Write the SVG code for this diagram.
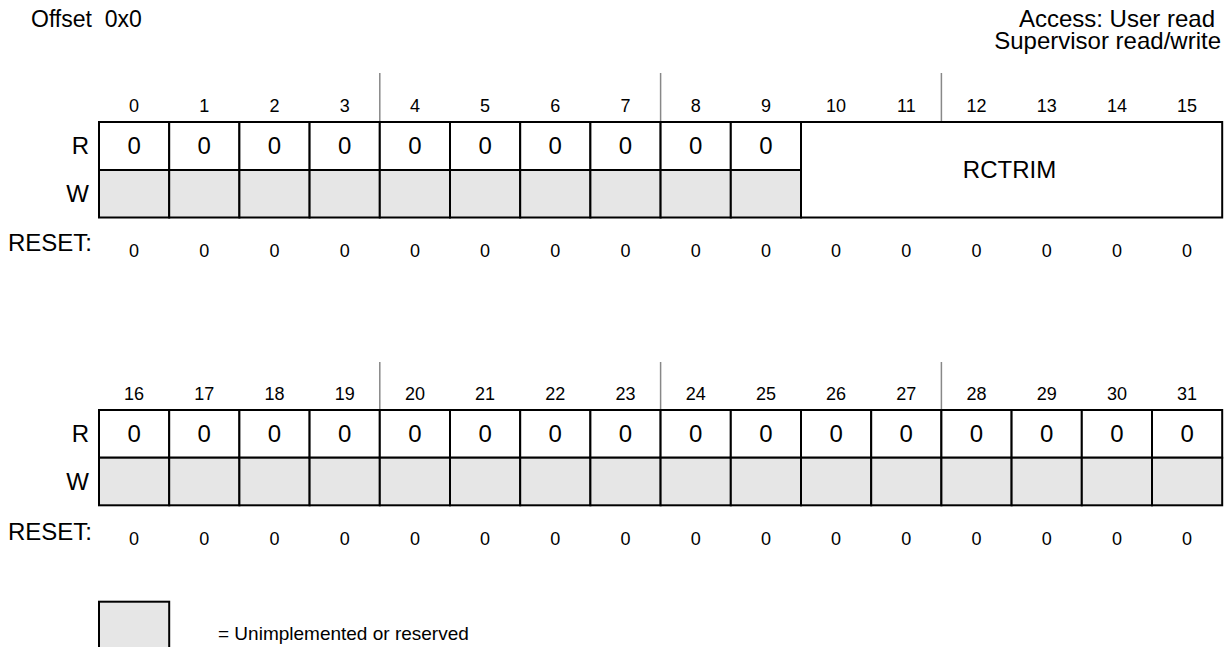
<svg xmlns="http://www.w3.org/2000/svg" width="1227" height="647" viewBox="0 0 1227 647">
<style>
text{font-family:"Liberation Sans",Arial,Helvetica,sans-serif;fill:#000}
.big{font-size:24px}
.num{font-size:18px;text-anchor:middle}
.val{font-size:24px;text-anchor:middle}
.lbl{font-size:24px;text-anchor:end}
.r{fill:#fff;stroke:#000;stroke-width:2}
.w{fill:#e6e6e6;stroke:#000;stroke-width:2}
.tick{stroke:#888;stroke-width:1.5}
</style>
<rect width="1227" height="647" fill="#fff"/>
<g id="header">
<text x="31" y="27" style="font-size:23px" xml:space="preserve">Offset  0x0</text>
<text class="big" x="1215" y="26.5" text-anchor="end">Access: User read</text>
<text class="big" x="1221" y="49" text-anchor="end">Supervisor read/write</text>
</g>
<g id="connectors">
<line class="tick" x1="379.8" y1="73" x2="379.8" y2="122"/>
<line class="tick" x1="660.6" y1="73" x2="660.6" y2="122"/>
<line class="tick" x1="941.4" y1="73" x2="941.4" y2="122"/>
<line class="tick" x1="379.8" y1="362" x2="379.8" y2="410"/>
<line class="tick" x1="660.6" y1="362" x2="660.6" y2="410"/>
<line class="tick" x1="941.4" y1="362" x2="941.4" y2="410"/>
</g>
<g id="row-labels">
<text class="lbl" x="89" y="153.5">R</text>
<text class="lbl" x="89" y="201.5">W</text>
<text class="big" x="8" y="251">RESET:</text>
<text class="lbl" x="89" y="442">R</text>
<text class="lbl" x="89" y="490">W</text>
<text class="big" x="8" y="539.5">RESET:</text>
</g>
<g id="bit-numbers-top">
<text class="num" x="134.1" y="111.7">0</text>
<text class="num" x="204.3" y="111.7">1</text>
<text class="num" x="274.5" y="111.7">2</text>
<text class="num" x="344.7" y="111.7">3</text>
<text class="num" x="414.9" y="111.7">4</text>
<text class="num" x="485.1" y="111.7">5</text>
<text class="num" x="555.3" y="111.7">6</text>
<text class="num" x="625.5" y="111.7">7</text>
<text class="num" x="695.7" y="111.7">8</text>
<text class="num" x="765.9" y="111.7">9</text>
<text class="num" x="836.1" y="111.7">10</text>
<text class="num" x="906.3" y="111.7">11</text>
<text class="num" x="976.5" y="111.7">12</text>
<text class="num" x="1046.7" y="111.7">13</text>
<text class="num" x="1116.9" y="111.7">14</text>
<text class="num" x="1187.1" y="111.7">15</text>
</g>
<g id="bit-numbers-bottom">
<text class="num" x="134.1" y="400.2">16</text>
<text class="num" x="204.3" y="400.2">17</text>
<text class="num" x="274.5" y="400.2">18</text>
<text class="num" x="344.7" y="400.2">19</text>
<text class="num" x="414.9" y="400.2">20</text>
<text class="num" x="485.1" y="400.2">21</text>
<text class="num" x="555.3" y="400.2">22</text>
<text class="num" x="625.5" y="400.2">23</text>
<text class="num" x="695.7" y="400.2">24</text>
<text class="num" x="765.9" y="400.2">25</text>
<text class="num" x="836.1" y="400.2">26</text>
<text class="num" x="906.3" y="400.2">27</text>
<text class="num" x="976.5" y="400.2">28</text>
<text class="num" x="1046.7" y="400.2">29</text>
<text class="num" x="1116.9" y="400.2">30</text>
<text class="num" x="1187.1" y="400.2">31</text>
</g>
<g id="register-top">
<g id="bit0"><rect class="r" x="99" y="122" width="70.2" height="48"/><rect class="w" x="99" y="170" width="70.2" height="47.5"/><text class="val" x="134.1" y="153.5">0</text></g>
<g id="bit1"><rect class="r" x="169.2" y="122" width="70.2" height="48"/><rect class="w" x="169.2" y="170" width="70.2" height="47.5"/><text class="val" x="204.3" y="153.5">0</text></g>
<g id="bit2"><rect class="r" x="239.4" y="122" width="70.2" height="48"/><rect class="w" x="239.4" y="170" width="70.2" height="47.5"/><text class="val" x="274.5" y="153.5">0</text></g>
<g id="bit3"><rect class="r" x="309.6" y="122" width="70.2" height="48"/><rect class="w" x="309.6" y="170" width="70.2" height="47.5"/><text class="val" x="344.7" y="153.5">0</text></g>
<g id="bit4"><rect class="r" x="379.8" y="122" width="70.2" height="48"/><rect class="w" x="379.8" y="170" width="70.2" height="47.5"/><text class="val" x="414.9" y="153.5">0</text></g>
<g id="bit5"><rect class="r" x="450" y="122" width="70.2" height="48"/><rect class="w" x="450" y="170" width="70.2" height="47.5"/><text class="val" x="485.1" y="153.5">0</text></g>
<g id="bit6"><rect class="r" x="520.2" y="122" width="70.2" height="48"/><rect class="w" x="520.2" y="170" width="70.2" height="47.5"/><text class="val" x="555.3" y="153.5">0</text></g>
<g id="bit7"><rect class="r" x="590.4" y="122" width="70.2" height="48"/><rect class="w" x="590.4" y="170" width="70.2" height="47.5"/><text class="val" x="625.5" y="153.5">0</text></g>
<g id="bit8"><rect class="r" x="660.6" y="122" width="70.2" height="48"/><rect class="w" x="660.6" y="170" width="70.2" height="47.5"/><text class="val" x="695.7" y="153.5">0</text></g>
<g id="bit9"><rect class="r" x="730.8" y="122" width="70.2" height="48"/><rect class="w" x="730.8" y="170" width="70.2" height="47.5"/><text class="val" x="765.9" y="153.5">0</text></g>
<g id="rctrim"><rect class="r" x="801" y="122" width="421.2" height="95.5"/><text class="val" x="1009.5" y="177.5">RCTRIM</text></g>
</g>
<g id="reset-top">
<text class="num" x="134.1" y="256.5">0</text>
<text class="num" x="204.3" y="256.5">0</text>
<text class="num" x="274.5" y="256.5">0</text>
<text class="num" x="344.7" y="256.5">0</text>
<text class="num" x="414.9" y="256.5">0</text>
<text class="num" x="485.1" y="256.5">0</text>
<text class="num" x="555.3" y="256.5">0</text>
<text class="num" x="625.5" y="256.5">0</text>
<text class="num" x="695.7" y="256.5">0</text>
<text class="num" x="765.9" y="256.5">0</text>
<text class="num" x="836.1" y="256.5">0</text>
<text class="num" x="906.3" y="256.5">0</text>
<text class="num" x="976.5" y="256.5">0</text>
<text class="num" x="1046.7" y="256.5">0</text>
<text class="num" x="1116.9" y="256.5">0</text>
<text class="num" x="1187.1" y="256.5">0</text>
</g>
<g id="register-bottom">
<g id="bit16"><rect class="r" x="99" y="410" width="70.2" height="47.7"/><rect class="w" x="99" y="457.7" width="70.2" height="47.6"/><text class="val" x="134.1" y="442">0</text></g>
<g id="bit17"><rect class="r" x="169.2" y="410" width="70.2" height="47.7"/><rect class="w" x="169.2" y="457.7" width="70.2" height="47.6"/><text class="val" x="204.3" y="442">0</text></g>
<g id="bit18"><rect class="r" x="239.4" y="410" width="70.2" height="47.7"/><rect class="w" x="239.4" y="457.7" width="70.2" height="47.6"/><text class="val" x="274.5" y="442">0</text></g>
<g id="bit19"><rect class="r" x="309.6" y="410" width="70.2" height="47.7"/><rect class="w" x="309.6" y="457.7" width="70.2" height="47.6"/><text class="val" x="344.7" y="442">0</text></g>
<g id="bit20"><rect class="r" x="379.8" y="410" width="70.2" height="47.7"/><rect class="w" x="379.8" y="457.7" width="70.2" height="47.6"/><text class="val" x="414.9" y="442">0</text></g>
<g id="bit21"><rect class="r" x="450" y="410" width="70.2" height="47.7"/><rect class="w" x="450" y="457.7" width="70.2" height="47.6"/><text class="val" x="485.1" y="442">0</text></g>
<g id="bit22"><rect class="r" x="520.2" y="410" width="70.2" height="47.7"/><rect class="w" x="520.2" y="457.7" width="70.2" height="47.6"/><text class="val" x="555.3" y="442">0</text></g>
<g id="bit23"><rect class="r" x="590.4" y="410" width="70.2" height="47.7"/><rect class="w" x="590.4" y="457.7" width="70.2" height="47.6"/><text class="val" x="625.5" y="442">0</text></g>
<g id="bit24"><rect class="r" x="660.6" y="410" width="70.2" height="47.7"/><rect class="w" x="660.6" y="457.7" width="70.2" height="47.6"/><text class="val" x="695.7" y="442">0</text></g>
<g id="bit25"><rect class="r" x="730.8" y="410" width="70.2" height="47.7"/><rect class="w" x="730.8" y="457.7" width="70.2" height="47.6"/><text class="val" x="765.9" y="442">0</text></g>
<g id="bit26"><rect class="r" x="801" y="410" width="70.2" height="47.7"/><rect class="w" x="801" y="457.7" width="70.2" height="47.6"/><text class="val" x="836.1" y="442">0</text></g>
<g id="bit27"><rect class="r" x="871.2" y="410" width="70.2" height="47.7"/><rect class="w" x="871.2" y="457.7" width="70.2" height="47.6"/><text class="val" x="906.3" y="442">0</text></g>
<g id="bit28"><rect class="r" x="941.4" y="410" width="70.2" height="47.7"/><rect class="w" x="941.4" y="457.7" width="70.2" height="47.6"/><text class="val" x="976.5" y="442">0</text></g>
<g id="bit29"><rect class="r" x="1011.6" y="410" width="70.2" height="47.7"/><rect class="w" x="1011.6" y="457.7" width="70.2" height="47.6"/><text class="val" x="1046.7" y="442">0</text></g>
<g id="bit30"><rect class="r" x="1081.8" y="410" width="70.2" height="47.7"/><rect class="w" x="1081.8" y="457.7" width="70.2" height="47.6"/><text class="val" x="1116.9" y="442">0</text></g>
<g id="bit31"><rect class="r" x="1152" y="410" width="70.2" height="47.7"/><rect class="w" x="1152" y="457.7" width="70.2" height="47.6"/><text class="val" x="1187.1" y="442">0</text></g>
</g>
<g id="reset-bottom">
<text class="num" x="134.1" y="545">0</text>
<text class="num" x="204.3" y="545">0</text>
<text class="num" x="274.5" y="545">0</text>
<text class="num" x="344.7" y="545">0</text>
<text class="num" x="414.9" y="545">0</text>
<text class="num" x="485.1" y="545">0</text>
<text class="num" x="555.3" y="545">0</text>
<text class="num" x="625.5" y="545">0</text>
<text class="num" x="695.7" y="545">0</text>
<text class="num" x="765.9" y="545">0</text>
<text class="num" x="836.1" y="545">0</text>
<text class="num" x="906.3" y="545">0</text>
<text class="num" x="976.5" y="545">0</text>
<text class="num" x="1046.7" y="545">0</text>
<text class="num" x="1116.9" y="545">0</text>
<text class="num" x="1187.1" y="545">0</text>
</g>
<g id="legend">
<rect class="w" x="99" y="601.7" width="70.2" height="50"/>
<text x="218" y="640" style="font-size:19px">= Unimplemented or reserved</text>
</g>
</svg>
